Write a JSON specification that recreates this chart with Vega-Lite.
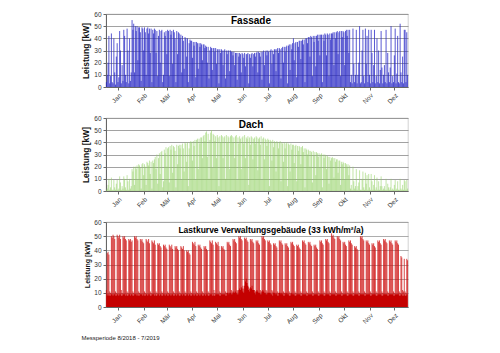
{
  "$schema": "https://vega.github.io/schema/vega-lite/v6.json",
  "padding": {"left": 81, "top": 10, "right": 5, "bottom": 5},
  "background": "white",
  "spacing": 8,
  "title": {"text": "Messperiode 8/2018 - 7/2019", "orient": "bottom", "anchor": "start", "fontSize": 6, "fontWeight": "normal", "font": "Liberation Sans", "color": "#222", "offset": 10},
  "config": {
    "font": "Liberation Sans",
    "view": {"stroke": "#c0c0c0", "strokeWidth": 0.7},
    "axis": {"labelFont": "Liberation Sans", "labelFontSize": 6.5, "labelColor": "#333", "tickColor": "#666", "domainColor": "#666", "tickSize": 3, "titleFont": "Liberation Sans", "titleColor": "#111", "titleFontWeight": "bold"},
    "axisY": {"titlePadding": 3}
  },
  "datasets": {
    "days": [
{"d":1,"f":4,"a":1,"l":12,"b":8},{"d":2,"f":10,"a":2,"l":38,"b":9},{"d":3,"f":20,"a":5,"l":39,"b":8},{"d":4,"f":42,"a":10,"l":37,"b":9},{"d":5,"f":3,"a":1,"l":11,"b":8},{"d":6,"f":9,"a":3,"l":10,"b":8},{"d":7,"f":44,"a":11,"l":50,"b":9},{"d":8,"f":4,"a":1,"l":49,"b":9},{"d":9,"f":3,"a":1,"l":51,"b":8},{"d":10,"f":40,"a":9,"l":50,"b":9},
{"d":11,"f":12,"a":3,"l":48,"b":9},{"d":12,"f":2,"a":1,"l":11,"b":8},{"d":13,"f":25,"a":6,"l":10,"b":8},{"d":14,"f":36,"a":9,"l":51,"b":9},{"d":15,"f":4,"a":1,"l":50,"b":9},{"d":16,"f":8,"a":2,"l":49,"b":8},{"d":17,"f":46,"a":12,"l":51,"b":9},{"d":18,"f":30,"a":7,"l":48,"b":9},{"d":19,"f":3,"a":1,"l":12,"b":8},{"d":20,"f":18,"a":4,"l":10,"b":8},
{"d":21,"f":5,"a":2,"l":50,"b":9},{"d":22,"f":47,"a":12,"l":49,"b":9},{"d":23,"f":42,"a":10,"l":50,"b":9},{"d":24,"f":10,"a":3,"l":48,"b":8},{"d":25,"f":4,"a":1,"l":47,"b":9},{"d":26,"f":48,"a":13,"l":11,"b":8},{"d":27,"f":30,"a":8,"l":10,"b":8},{"d":28,"f":3,"a":1,"l":48,"b":9},{"d":29,"f":40,"a":10,"l":47,"b":9},{"d":30,"f":5,"a":2,"l":48,"b":8},
{"d":31,"f":12,"a":4,"l":46,"b":9},{"d":32,"f":55,"a":18,"l":47,"b":9},{"d":33,"f":47,"a":16,"l":11,"b":8},{"d":34,"f":52,"a":20,"l":10,"b":8},{"d":35,"f":12,"a":5,"l":50,"b":9},{"d":36,"f":50,"a":20,"l":49,"b":9},{"d":37,"f":46,"a":18,"l":50,"b":9},{"d":38,"f":50,"a":21,"l":48,"b":8},{"d":39,"f":22,"a":9,"l":47,"b":9},{"d":40,"f":49,"a":22,"l":11,"b":8},
{"d":41,"f":49,"a":21,"l":10,"b":8},{"d":42,"f":45,"a":19,"l":48,"b":9},{"d":43,"f":5,"a":2,"l":47,"b":9},{"d":44,"f":49,"a":22,"l":48,"b":9},{"d":45,"f":48,"a":23,"l":46,"b":8},{"d":46,"f":30,"a":13,"l":45,"b":9},{"d":47,"f":49,"a":22,"l":11,"b":8},{"d":48,"f":45,"a":20,"l":10,"b":8},{"d":49,"f":10,"a":5,"l":48,"b":9},{"d":50,"f":48,"a":24,"l":47,"b":9},
{"d":51,"f":49,"a":23,"l":46,"b":8},{"d":52,"f":44,"a":21,"l":48,"b":9},{"d":53,"f":48,"a":25,"l":45,"b":9},{"d":54,"f":28,"a":14,"l":11,"b":8},{"d":55,"f":48,"a":24,"l":10,"b":8},{"d":56,"f":4,"a":2,"l":47,"b":9},{"d":57,"f":47,"a":25,"l":46,"b":9},{"d":58,"f":44,"a":23,"l":45,"b":9},{"d":59,"f":48,"a":26,"l":47,"b":8},{"d":60,"f":47,"a":28,"l":44,"b":9},
{"d":61,"f":28,"a":18,"l":11,"b":8},{"d":62,"f":46,"a":30,"l":10,"b":8},{"d":63,"f":9,"a":6,"l":45,"b":9},{"d":64,"f":42,"a":27,"l":44,"b":9},{"d":65,"f":47,"a":31,"l":45,"b":8},{"d":66,"f":20,"a":14,"l":43,"b":9},{"d":67,"f":46,"a":32,"l":42,"b":9},{"d":68,"f":47,"a":33,"l":11,"b":8},{"d":69,"f":4,"a":3,"l":10,"b":8},{"d":70,"f":10,"a":8,"l":44,"b":9},
{"d":71,"f":45,"a":34,"l":43,"b":9},{"d":72,"f":42,"a":31,"l":44,"b":8},{"d":73,"f":46,"a":36,"l":42,"b":9},{"d":74,"f":27,"a":20,"l":41,"b":9},{"d":75,"f":47,"a":35,"l":11,"b":8},{"d":76,"f":46,"a":36,"l":10,"b":8},{"d":77,"f":9,"a":7,"l":44,"b":9},{"d":78,"f":47,"a":37,"l":43,"b":9},{"d":79,"f":43,"a":34,"l":42,"b":8},{"d":80,"f":46,"a":38,"l":44,"b":9},
{"d":81,"f":19,"a":15,"l":41,"b":9},{"d":82,"f":47,"a":37,"l":11,"b":8},{"d":83,"f":45,"a":36,"l":10,"b":8},{"d":84,"f":40,"a":33,"l":43,"b":9},{"d":85,"f":4,"a":3,"l":42,"b":9},{"d":86,"f":46,"a":38,"l":43,"b":8},{"d":87,"f":27,"a":22,"l":41,"b":9},{"d":88,"f":45,"a":37,"l":40,"b":9},{"d":89,"f":44,"a":38,"l":11,"b":8},{"d":90,"f":40,"a":35,"l":10,"b":8},
{"d":91,"f":43,"a":38,"l":43,"b":9},{"d":92,"f":12,"a":9,"l":42,"b":9},{"d":93,"f":42,"a":39,"l":41,"b":8},{"d":94,"f":38,"a":35,"l":43,"b":9},{"d":95,"f":15,"a":16,"l":40,"b":9},{"d":96,"f":41,"a":40,"l":11,"b":8},{"d":97,"f":40,"a":39,"l":10,"b":8},{"d":98,"f":25,"a":24,"l":40,"b":9},{"d":99,"f":40,"a":40,"l":39,"b":9},{"d":100,"f":4,"a":4,"l":40,"b":8},
{"d":101,"f":36,"a":35,"l":38,"b":9},{"d":102,"f":39,"a":40,"l":37,"b":9},{"d":103,"f":38,"a":41,"l":11,"b":8},{"d":104,"f":38,"a":40,"l":10,"b":8},{"d":105,"f":24,"a":25,"l":46,"b":9},{"d":106,"f":37,"a":41,"l":45,"b":9},{"d":107,"f":34,"a":37,"l":44,"b":8},{"d":108,"f":37,"a":42,"l":46,"b":9},{"d":109,"f":8,"a":9,"l":43,"b":9},{"d":110,"f":37,"a":42,"l":11,"b":8},
{"d":111,"f":36,"a":43,"l":10,"b":8},{"d":112,"f":15,"a":18,"l":44,"b":9},{"d":113,"f":36,"a":43,"l":43,"b":9},{"d":114,"f":33,"a":39,"l":44,"b":8},{"d":115,"f":36,"a":44,"l":42,"b":9},{"d":116,"f":35,"a":44,"l":41,"b":9},{"d":117,"f":22,"a":27,"l":11,"b":8},{"d":118,"f":35,"a":45,"l":10,"b":8},{"d":119,"f":35,"a":46,"l":43,"b":9},{"d":120,"f":32,"a":41,"l":42,"b":9},
{"d":121,"f":34,"a":48,"l":43,"b":8},{"d":122,"f":33,"a":49,"l":41,"b":9},{"d":123,"f":20,"a":28,"l":40,"b":9},{"d":124,"f":33,"a":47,"l":11,"b":8},{"d":125,"f":7,"a":10,"l":10,"b":8},{"d":126,"f":30,"a":42,"l":47,"b":9},{"d":127,"f":33,"a":48,"l":46,"b":9},{"d":128,"f":32,"a":50,"l":45,"b":9},{"d":129,"f":14,"a":19,"l":47,"b":8},{"d":130,"f":32,"a":47,"l":44,"b":9},
{"d":131,"f":32,"a":46,"l":12,"b":8},{"d":132,"f":29,"a":41,"l":10,"b":8},{"d":133,"f":32,"a":45,"l":46,"b":9},{"d":134,"f":19,"a":27,"l":45,"b":9},{"d":135,"f":31,"a":46,"l":44,"b":9},{"d":136,"f":31,"a":44,"l":46,"b":9},{"d":137,"f":3,"a":4,"l":43,"b":9},{"d":138,"f":31,"a":45,"l":11,"b":8},{"d":139,"f":28,"a":40,"l":10,"b":8},{"d":140,"f":31,"a":46,"l":43,"b":9},
{"d":141,"f":30,"a":45,"l":42,"b":9},{"d":142,"f":18,"a":27,"l":43,"b":9},{"d":143,"f":30,"a":44,"l":41,"b":9},{"d":144,"f":31,"a":45,"l":40,"b":9},{"d":145,"f":7,"a":10,"l":11,"b":8},{"d":146,"f":30,"a":46,"l":10,"b":8},{"d":147,"f":27,"a":40,"l":46,"b":10},{"d":148,"f":30,"a":45,"l":45,"b":10},{"d":149,"f":30,"a":44,"l":46,"b":9},{"d":150,"f":13,"a":18,"l":44,"b":10},
{"d":151,"f":30,"a":45,"l":43,"b":10},{"d":152,"f":29,"a":46,"l":12,"b":9},{"d":153,"f":29,"a":45,"l":11,"b":9},{"d":154,"f":26,"a":40,"l":48,"b":10},{"d":155,"f":29,"a":44,"l":47,"b":11},{"d":156,"f":18,"a":27,"l":48,"b":10},{"d":157,"f":28,"a":45,"l":46,"b":11},{"d":158,"f":28,"a":46,"l":45,"b":10},{"d":159,"f":6,"a":9,"l":12,"b":9},{"d":160,"f":28,"a":44,"l":11,"b":9},
{"d":161,"f":25,"a":39,"l":50,"b":12},{"d":162,"f":28,"a":45,"l":49,"b":13},{"d":163,"f":27,"a":43,"l":50,"b":12},{"d":164,"f":12,"a":18,"l":48,"b":14},{"d":165,"f":28,"a":44,"l":47,"b":13},{"d":166,"f":27,"a":45,"l":15,"b":11},{"d":167,"f":24,"a":39,"l":13,"b":10},{"d":168,"f":28,"a":46,"l":49,"b":15},{"d":169,"f":17,"a":27,"l":48,"b":18},{"d":170,"f":27,"a":44,"l":49,"b":20},
{"d":171,"f":27,"a":43,"l":47,"b":17},{"d":172,"f":28,"a":45,"l":46,"b":15},{"d":173,"f":3,"a":5,"l":14,"b":12},{"d":174,"f":27,"a":44,"l":13,"b":11},{"d":175,"f":24,"a":38,"l":48,"b":14},{"d":176,"f":27,"a":45,"l":47,"b":13},{"d":177,"f":28,"a":44,"l":48,"b":15},{"d":178,"f":17,"a":26,"l":46,"b":12},{"d":179,"f":27,"a":43,"l":45,"b":12},{"d":180,"f":28,"a":44,"l":12,"b":10},
{"d":181,"f":25,"a":39,"l":11,"b":9},{"d":182,"f":28,"a":45,"l":47,"b":11},{"d":183,"f":29,"a":44,"l":46,"b":12},{"d":184,"f":12,"a":17,"l":47,"b":11},{"d":185,"f":29,"a":43,"l":45,"b":10},{"d":186,"f":28,"a":44,"l":44,"b":10},{"d":187,"f":25,"a":38,"l":12,"b":9},{"d":188,"f":29,"a":45,"l":11,"b":9},{"d":189,"f":6,"a":9,"l":50,"b":11},{"d":190,"f":29,"a":43,"l":49,"b":12},
{"d":191,"f":30,"a":44,"l":50,"b":11},{"d":192,"f":18,"a":26,"l":48,"b":10},{"d":193,"f":29,"a":43,"l":47,"b":10},{"d":194,"f":30,"a":42,"l":12,"b":9},{"d":195,"f":26,"a":37,"l":11,"b":9},{"d":196,"f":30,"a":43,"l":47,"b":10},{"d":197,"f":29,"a":42,"l":46,"b":10},{"d":198,"f":3,"a":4,"l":47,"b":10},{"d":199,"f":30,"a":42,"l":45,"b":10},{"d":200,"f":31,"a":41,"l":44,"b":9},
{"d":201,"f":19,"a":25,"l":12,"b":9},{"d":202,"f":30,"a":42,"l":11,"b":8},{"d":203,"f":27,"a":36,"l":45,"b":10},{"d":204,"f":31,"a":41,"l":44,"b":10},{"d":205,"f":31,"a":40,"l":45,"b":9},{"d":206,"f":13,"a":16,"l":43,"b":10},{"d":207,"f":31,"a":41,"l":42,"b":9},{"d":208,"f":32,"a":40,"l":11,"b":8},{"d":209,"f":28,"a":35,"l":10,"b":8},{"d":210,"f":32,"a":40,"l":47,"b":10},
{"d":211,"f":31,"a":41,"l":46,"b":10},{"d":212,"f":7,"a":8,"l":47,"b":9},{"d":213,"f":32,"a":40,"l":45,"b":10},{"d":214,"f":33,"a":39,"l":44,"b":9},{"d":215,"f":20,"a":24,"l":11,"b":8},{"d":216,"f":33,"a":40,"l":10,"b":8},{"d":217,"f":29,"a":35,"l":45,"b":10},{"d":218,"f":33,"a":39,"l":44,"b":9},{"d":219,"f":34,"a":40,"l":45,"b":10},{"d":220,"f":3,"a":4,"l":43,"b":9},
{"d":221,"f":34,"a":39,"l":42,"b":9},{"d":222,"f":35,"a":38,"l":11,"b":8},{"d":223,"f":14,"a":16,"l":10,"b":8},{"d":224,"f":35,"a":39,"l":46,"b":9},{"d":225,"f":31,"a":34,"l":45,"b":10},{"d":226,"f":36,"a":38,"l":46,"b":9},{"d":227,"f":40,"a":38,"l":44,"b":9},{"d":228,"f":22,"a":23,"l":43,"b":9},{"d":229,"f":36,"a":37,"l":11,"b":8},{"d":230,"f":37,"a":38,"l":10,"b":8},
{"d":231,"f":8,"a":8,"l":44,"b":9},{"d":232,"f":37,"a":37,"l":43,"b":9},{"d":233,"f":33,"a":33,"l":44,"b":9},{"d":234,"f":38,"a":37,"l":42,"b":9},{"d":235,"f":38,"a":36,"l":41,"b":9},{"d":236,"f":23,"a":22,"l":11,"b":8},{"d":237,"f":38,"a":36,"l":10,"b":8},{"d":238,"f":39,"a":37,"l":47,"b":9},{"d":239,"f":35,"a":32,"l":46,"b":9},{"d":240,"f":39,"a":35,"l":47,"b":9},
{"d":241,"f":4,"a":3,"l":45,"b":9},{"d":242,"f":40,"a":35,"l":44,"b":9},{"d":243,"f":40,"a":34,"l":11,"b":8},{"d":244,"f":36,"a":30,"l":10,"b":8},{"d":245,"f":41,"a":34,"l":46,"b":9},{"d":246,"f":41,"a":33,"l":45,"b":9},{"d":247,"f":25,"a":20,"l":46,"b":9},{"d":248,"f":42,"a":33,"l":44,"b":9},{"d":249,"f":41,"a":32,"l":43,"b":9},{"d":250,"f":9,"a":7,"l":11,"b":8},
{"d":251,"f":42,"a":33,"l":10,"b":8},{"d":252,"f":37,"a":29,"l":44,"b":9},{"d":253,"f":42,"a":32,"l":43,"b":9},{"d":254,"f":17,"a":13,"l":44,"b":9},{"d":255,"f":42,"a":32,"l":42,"b":9},{"d":256,"f":43,"a":31,"l":41,"b":9},{"d":257,"f":38,"a":28,"l":11,"b":8},{"d":258,"f":43,"a":31,"l":10,"b":8},{"d":259,"f":26,"a":19,"l":47,"b":9},{"d":260,"f":43,"a":30,"l":46,"b":9},
{"d":261,"f":43,"a":31,"l":47,"b":9},{"d":262,"f":4,"a":3,"l":45,"b":9},{"d":263,"f":43,"a":30,"l":44,"b":9},{"d":264,"f":38,"a":27,"l":11,"b":8},{"d":265,"f":44,"a":30,"l":10,"b":8},{"d":266,"f":43,"a":29,"l":48,"b":9},{"d":267,"f":26,"a":18,"l":47,"b":9},{"d":268,"f":44,"a":29,"l":48,"b":9},{"d":269,"f":43,"a":28,"l":46,"b":9},{"d":270,"f":9,"a":6,"l":45,"b":9},
{"d":271,"f":44,"a":28,"l":11,"b":8},{"d":272,"f":39,"a":25,"l":10,"b":8},{"d":273,"f":44,"a":27,"l":52,"b":9},{"d":274,"f":44,"a":28,"l":50,"b":9},{"d":275,"f":45,"a":27,"l":51,"b":9},{"d":276,"f":18,"a":11,"l":49,"b":9},{"d":277,"f":45,"a":27,"l":48,"b":9},{"d":278,"f":40,"a":24,"l":11,"b":8},{"d":279,"f":45,"a":26,"l":10,"b":8},{"d":280,"f":46,"a":26,"l":50,"b":9},
{"d":281,"f":27,"a":15,"l":49,"b":9},{"d":282,"f":45,"a":25,"l":50,"b":9},{"d":283,"f":46,"a":25,"l":48,"b":9},{"d":284,"f":9,"a":5,"l":47,"b":9},{"d":285,"f":46,"a":24,"l":11,"b":8},{"d":286,"f":41,"a":22,"l":10,"b":8},{"d":287,"f":46,"a":24,"l":46,"b":9},{"d":288,"f":45,"a":23,"l":45,"b":9},{"d":289,"f":18,"a":9,"l":46,"b":9},{"d":290,"f":46,"a":23,"l":44,"b":9},
{"d":291,"f":47,"a":22,"l":43,"b":9},{"d":292,"f":42,"a":20,"l":11,"b":8},{"d":293,"f":47,"a":22,"l":10,"b":8},{"d":294,"f":28,"a":13,"l":47,"b":9},{"d":295,"f":47,"a":21,"l":46,"b":9},{"d":296,"f":4,"a":2,"l":47,"b":9},{"d":297,"f":10,"a":5,"l":45,"b":9},{"d":298,"f":3,"a":1,"l":44,"b":9},{"d":299,"f":48,"a":20,"l":11,"b":8},{"d":300,"f":19,"a":8,"l":10,"b":8},
{"d":301,"f":4,"a":2,"l":43,"b":9},{"d":302,"f":10,"a":4,"l":42,"b":9},{"d":303,"f":47,"a":18,"l":43,"b":9},{"d":304,"f":3,"a":1,"l":41,"b":9},{"d":305,"f":10,"a":4,"l":40,"b":9},{"d":306,"f":20,"a":7,"l":11,"b":8},{"d":307,"f":50,"a":17,"l":10,"b":8},{"d":308,"f":3,"a":1,"l":50,"b":9},{"d":309,"f":4,"a":1,"l":49,"b":9},{"d":310,"f":30,"a":10,"l":50,"b":9},
{"d":311,"f":47,"a":16,"l":48,"b":9},{"d":312,"f":9,"a":3,"l":47,"b":9},{"d":313,"f":3,"a":1,"l":11,"b":8},{"d":314,"f":48,"a":15,"l":10,"b":8},{"d":315,"f":19,"a":6,"l":47,"b":9},{"d":316,"f":42,"a":13,"l":46,"b":9},{"d":317,"f":4,"a":1,"l":47,"b":9},{"d":318,"f":47,"a":14,"l":45,"b":9},{"d":319,"f":10,"a":3,"l":44,"b":9},{"d":320,"f":3,"a":1,"l":11,"b":8},
{"d":321,"f":47,"a":14,"l":10,"b":8},{"d":322,"f":28,"a":8,"l":45,"b":9},{"d":323,"f":4,"a":1,"l":44,"b":9},{"d":324,"f":18,"a":5,"l":45,"b":9},{"d":325,"f":47,"a":13,"l":43,"b":9},{"d":326,"f":3,"a":1,"l":42,"b":9},{"d":327,"f":9,"a":3,"l":11,"b":8},{"d":328,"f":40,"a":11,"l":10,"b":8},{"d":329,"f":4,"a":1,"l":47,"b":9},{"d":330,"f":30,"a":8,"l":46,"b":9},
{"d":331,"f":3,"a":1,"l":47,"b":9},{"d":332,"f":14,"a":4,"l":45,"b":9},{"d":333,"f":46,"a":12,"l":44,"b":9},{"d":334,"f":16,"a":4,"l":11,"b":8},{"d":335,"f":3,"a":1,"l":10,"b":8},{"d":336,"f":10,"a":2,"l":48,"b":9},{"d":337,"f":18,"a":4,"l":47,"b":9},{"d":338,"f":4,"a":1,"l":48,"b":9},{"d":339,"f":47,"a":10,"l":46,"b":9},{"d":340,"f":3,"a":1,"l":45,"b":9},
{"d":341,"f":28,"a":6,"l":11,"b":8},{"d":342,"f":12,"a":3,"l":10,"b":8},{"d":343,"f":4,"a":1,"l":47,"b":9},{"d":344,"f":16,"a":3,"l":46,"b":9},{"d":345,"f":50,"a":10,"l":47,"b":9},{"d":346,"f":3,"a":1,"l":45,"b":9},{"d":347,"f":9,"a":2,"l":44,"b":9},{"d":348,"f":4,"a":1,"l":11,"b":8},{"d":349,"f":26,"a":5,"l":10,"b":8},{"d":350,"f":48,"a":9,"l":47,"b":9},
{"d":351,"f":3,"a":1,"l":46,"b":9},{"d":352,"f":11,"a":2,"l":47,"b":9},{"d":353,"f":42,"a":8,"l":45,"b":9},{"d":354,"f":4,"a":1,"l":44,"b":9},{"d":355,"f":3,"a":1,"l":11,"b":8},{"d":356,"f":52,"a":10,"l":10,"b":8},{"d":357,"f":12,"a":2,"l":36,"b":9},{"d":358,"f":4,"a":1,"l":35,"b":9},{"d":359,"f":25,"a":5,"l":12,"b":8},{"d":360,"f":3,"a":1,"l":11,"b":8},
{"d":361,"f":47,"a":9,"l":34,"b":9},{"d":362,"f":47,"a":8,"l":11,"b":8},{"d":363,"f":4,"a":1,"l":10,"b":8},{"d":364,"f":45,"a":9,"l":34,"b":9},{"d":365,"f":10,"a":2,"l":33,"b":9}
    ]
  },
  "vconcat": [
    {
      "width": 302, "height": 73,
      "data": {"name": "days"},
      "title": {"text": "Fassade", "offset": -15, "dx": -6, "fontSize": 10, "fontWeight": "bold", "font": "Liberation Sans", "color": "#000"},
      "mark": {"type": "rule", "color": "#2626c4", "strokeWidth": 0.9, "opacity": 0.85},
      "encoding": {
        "x": {"field": "d", "type": "quantitative", "scale": {"domain": [0.5, 365.5], "nice": false, "zero": false},
              "axis": {"title": null, "grid": false, "values": [15,46,74,105,135,166,196,227,258,288,319,349], "labelAngle": -45, "labelExpr": "['Jan','Feb','Mär','Apr','Mai','Jun','Jul','Aug','Sep','Okt','Nov','Dez'][floor(datum.value/30.5)]"}},
        "y": {"field": "f", "type": "quantitative", "scale": {"domain": [0, 60], "nice": false},
              "axis": {"title": "Leistung [kW]", "titleFontSize": 8.5, "values": [0,10,20,30,40,50,60], "grid": true, "gridColor": "#7a7a7a", "gridWidth": 0.7}},
        "y2": {"datum": 0}
      }
    },
    {
      "width": 302, "height": 73,
      "data": {"name": "days"},
      "title": {"text": "Dach", "offset": -15, "dx": -6, "fontSize": 10, "fontWeight": "bold", "font": "Liberation Sans", "color": "#000"},
      "mark": {"type": "rule", "color": "#92d062", "strokeWidth": 0.7, "opacity": 0.8},
      "encoding": {
        "x": {"field": "d", "type": "quantitative", "scale": {"domain": [0.5, 365.5], "nice": false, "zero": false},
              "axis": {"title": null, "grid": false, "values": [15,46,74,105,135,166,196,227,258,288,319,349], "labelAngle": -45, "labelExpr": "['Jan','Feb','Mär','Apr','Mai','Jun','Jul','Aug','Sep','Okt','Nov','Dez'][floor(datum.value/30.5)]"}},
        "y": {"field": "a", "type": "quantitative", "scale": {"domain": [0, 60], "nice": false},
              "axis": {"title": "Leistung [kW]", "titleFontSize": 8.5, "values": [0,10,20,30,40,50,60], "grid": true, "gridColor": "#7a7a7a", "gridWidth": 0.7}},
        "y2": {"datum": 0}
      }
    },
    {
      "width": 302, "height": 85,
      "data": {"name": "days"},
      "title": {"text": "Lastkurve Verwaltungsgebäude (33 kWh/m²/a)", "offset": -15, "dx": 14, "fontSize": 8.5, "fontWeight": "bold", "font": "Liberation Sans", "color": "#000"},
      "encoding": {
        "x": {"field": "d", "type": "quantitative", "scale": {"domain": [0.5, 365.5], "nice": false, "zero": false},
              "axis": {"title": null, "grid": false, "values": [15,46,74,105,135,166,196,227,258,288,319,349], "labelAngle": -45, "labelExpr": "['Jan','Feb','Mär','Apr','Mai','Jun','Jul','Aug','Sep','Okt','Nov','Dez'][floor(datum.value/30.5)]"}}
      },
      "layer": [
        {
          "mark": {"type": "rule", "color": "#cc0d0d", "strokeWidth": 1, "opacity": 0.75},
          "encoding": {
            "y": {"field": "l", "type": "quantitative", "scale": {"domain": [0, 60], "nice": false},
                  "axis": {"title": "Leistung [kW]", "titleFontSize": 7, "values": [0,10,20,30,40,50,60], "grid": true, "gridColor": "#8a8a8a", "gridWidth": 0.7}},
            "y2": {"datum": 0}
          }
        },
        {
          "mark": {"type": "area", "color": "#c40000", "interpolate": "step"},
          "encoding": {
            "y": {"field": "b", "type": "quantitative", "scale": {"domain": [0, 60], "nice": false},
                  "axis": {"title": "Leistung [kW]", "titleFontSize": 7, "values": [0,10,20,30,40,50,60], "grid": true, "gridColor": "#8a8a8a", "gridWidth": 0.7}}
          }
        }
      ]
    }
  ]
}
